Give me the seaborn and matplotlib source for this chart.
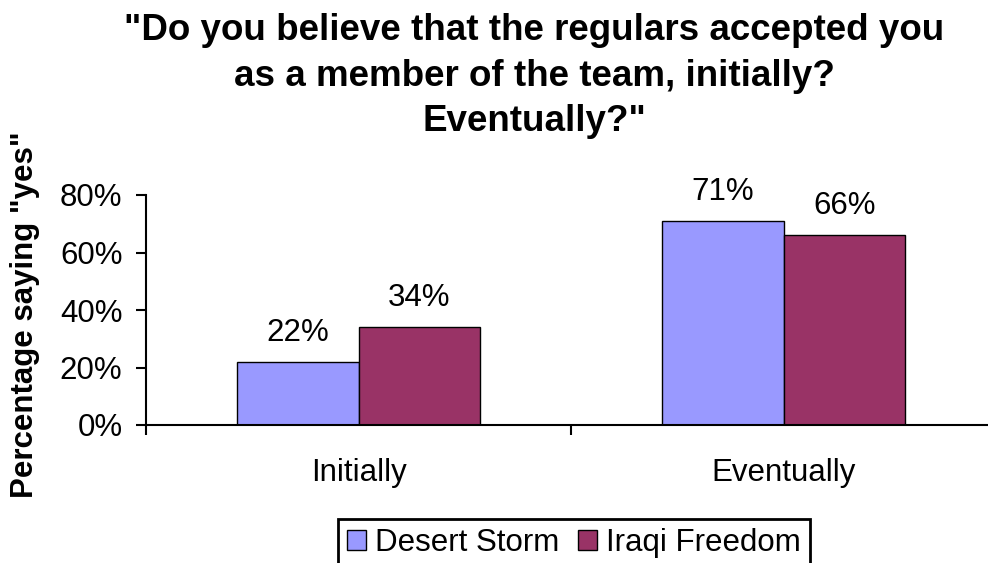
import matplotlib
matplotlib.use("Agg")
import matplotlib.pyplot as plt
import seaborn as sns
import pandas as pd
import numpy as np

categories = ["Initially", "Eventually"]
series = ["Desert Storm", "Iraqi Freedom"]
desert_storm = [22, 71]
iraqi_freedom = [34, 66]
colors = ["#9999FF", "#993366"]
title = '"Do you believe that the regulars accepted you\nas a member of the team, initially?\nEventually?"'
ylabel = 'Percentage saying "yes"'

sns.set_theme(style="white")
plt.rcParams['font.family'] = ['Liberation Sans', 'DejaVu Sans']
plt.rcParams['text.color'] = 'black'
plt.rcParams['axes.labelcolor'] = 'black'
plt.rcParams['xtick.color'] = 'black'
plt.rcParams['ytick.color'] = 'black'

FS = 22.5

df = pd.DataFrame({
    "cat": categories * 2,
    "series": [series[0]] * 2 + [series[1]] * 2,
    "value": desert_storm + iraqi_freedom,
})

fig = plt.figure(figsize=(9.88, 5.63), dpi=100)
ax = fig.add_axes([146/988, 1 - 425/563, 850/988, 230/563])

sns.barplot(data=df, x="cat", y="value", hue="series", order=categories,
            hue_order=series, palette=colors, saturation=1, width=0.574,
            edgecolor="black", linewidth=1.0, ax=ax, legend=True)

for cont in ax.containers:
    ax.bar_label(cont, labels=[f"{v:.0f}%" for v in cont.datavalues],
                 padding=10, fontsize=FS, color="black")

ax.set_xlim(-0.5, 1.5)
ax.set_ylim(0, 80)
ax.set_yticks([0, 20, 40, 60, 80])
ax.set_yticklabels([f"{v}%" for v in [0, 20, 40, 60, 80]], fontsize=FS)
ax.set_xticks([0, 1])
ax.set_xticklabels(categories, fontsize=FS)
ax.set_xticks([-0.5, 0.5, 1.5], minor=True)
ax.tick_params(axis="x", which="major", length=0, pad=24)
ax.tick_params(axis="x", which="minor", length=7, width=1.5, color="black", direction="out")
ax.tick_params(axis="y", length=7, width=1.5, color="black", direction="out", pad=10)
ax.xaxis.set_tick_params(bottom=True, which="both")
ax.yaxis.set_tick_params(left=True)

for s in ["top", "right"]:
    ax.spines[s].set_visible(False)
for s in ["left", "bottom"]:
    ax.spines[s].set_color("black")
    ax.spines[s].set_linewidth(1.5)

ax.set_xlabel("")
ax.set_ylabel(ylabel, fontsize=FS, fontweight="bold")
ax.yaxis.set_label_coords(-0.125, 0.478)

fig.text(534/988, 1 - 76/563, title, ha="center", va="center",
         fontsize=26.5, fontweight="bold", linespacing=1.4)

leg = ax.legend(loc="center", bbox_to_anchor=(574/988, 1 - 543/563),
                bbox_transform=fig.transFigure, ncol=2, fontsize=FS,
                frameon=True, fancybox=False, framealpha=1,
                handlelength=0.6, handleheight=0.6,
                handletextpad=0.3, columnspacing=0.6, borderpad=0.3,
                borderaxespad=0)
leg.get_frame().set_edgecolor("black")
leg.get_frame().set_linewidth(2)

fig.savefig("out.png", dpi=100)
